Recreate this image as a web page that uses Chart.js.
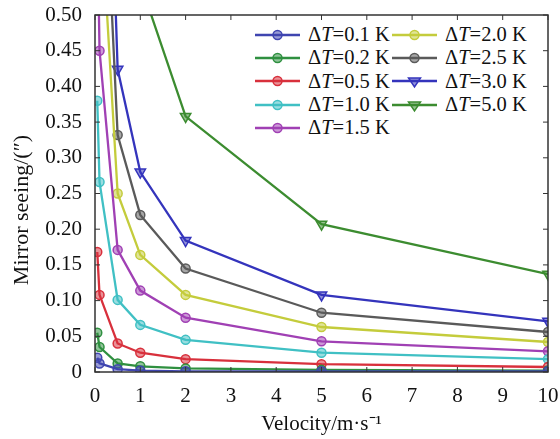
<!DOCTYPE html>
<html>
<head>
<meta charset="utf-8">
<script src="https://cdn.jsdelivr.net/npm/chart.js@4.4.0/dist/chart.umd.min.js"></script>
<style>
  body { margin: 0; background: #fff; }
  .wrap { position: relative; width: 560px; height: 439px; }
  #legend { position: absolute; left: 255px; top: 23px; display: grid; grid-template-rows: repeat(5, 23.3px); grid-auto-flow: column; grid-template-columns: 137px 137px; font-family: "Liberation Serif", serif; font-size: 20.5px; color: #111; background: #fff; }
  .item { display: flex; align-items: center; white-space: nowrap; }
  .item svg { margin-right: 8px; }
</style>
</head>
<body>
<div class="wrap">
  <canvas id="myChart" width="560" height="439"></canvas>
  <div id="legend"></div>
</div>
<script>
const velocity = [0.05, 0.1, 0.5, 1, 2, 5, 10];
const deltaT = ['0.1', '0.2', '0.5', '1.0', '1.5', '2.0', '2.5', '3.0', '5.0'];
const dT01 = [0.020, 0.012, 0.004, 0.002, 0.001, 0.001, 0.001];
const dT02 = [0.055, 0.035, 0.012, 0.008, 0.005, 0.003, 0.002];
const dT05 = [0.168, 0.108, 0.040, 0.027, 0.018, 0.011, 0.007];
const dT10 = [0.380, 0.266, 0.101, 0.066, 0.045, 0.027, 0.018];
const dT15 = [0.640, 0.450, 0.171, 0.114, 0.076, 0.043, 0.029];
const dT20 = [0.950, 0.680, 0.250, 0.164, 0.108, 0.063, 0.042];
const dT25 = [1.250, 0.870, 0.332, 0.220, 0.145, 0.083, 0.056];
const dT30 = [1.650, 1.180, 0.424, 0.280, 0.184, 0.108, 0.071];
const dT50 = [2.300, 1.600, 0.850, 0.545, 0.358, 0.207, 0.137];
const xTicks = [0, 1, 2, 3, 4, 5, 6, 7, 8, 9, 10];

const allSeries = [dT01, dT02, dT05, dT10, dT15, dT20, dT25, dT30, dT50];
const colors = ['#3f45b0', '#2f9040', '#d8303c', '#40c0c4', '#a040b4', '#c4cc3c', '#5a5a5a', '#3434bc', '#3c8c30'];
const shapes = ['circle', 'circle', 'circle', 'circle', 'circle', 'circle', 'circle', 'triangle', 'triangle'];

const serif = '"Liberation Serif", serif';

const datasets = allSeries.map(function (vals, i) {
    return {
        label: 'ΔT=' + deltaT[i] + ' K',
        data: vals.map(function (v, j) { return {x: velocity[j], y: v}; }),
        borderColor: colors[i],
        backgroundColor: colors[i] + '88',
        borderWidth: 2.3,
        pointStyle: shapes[i],
        rotation: shapes[i] === 'triangle' ? 180 : 0,
        pointRadius: shapes[i] === 'triangle' ? 6 : 4.5,
        pointBorderWidth: 1.5,
        tension: 0
    };
});

// frame round the plot area with inward ticks
const frame = {
    id: 'frame',
    afterDraw: function (chart) {
        const c = chart.ctx, a = chart.chartArea;
        const xs = chart.scales.x, ys = chart.scales.y;
        c.save();
        c.strokeStyle = '#333';
        c.lineWidth = 1.5;
        c.strokeRect(a.left, a.top, a.right - a.left, a.bottom - a.top);
        c.lineWidth = 1;
        c.beginPath();
        xTicks.forEach(function (t) {
            const px = xs.getPixelForValue(t);
            c.moveTo(px, a.bottom); c.lineTo(px, a.bottom - 5);
            c.moveTo(px, a.top); c.lineTo(px, a.top + 5);
        });
        ys.ticks.forEach(function (t) {
            const py = ys.getPixelForValue(t.value);
            c.moveTo(a.left, py); c.lineTo(a.left + 5, py);
            c.moveTo(a.right, py); c.lineTo(a.right - 5, py);
        });
        c.stroke();
        c.restore();
    }
};

const ctx = document.getElementById('myChart');
const myChart = new Chart(ctx, {
    type: 'line',
    data: { datasets: datasets },
    plugins: [frame],
    options: {
        responsive: false,
        animation: false,
        layout: { padding: { top: 15, right: 12, left: 0, bottom: 0 } },
        plugins: { legend: { display: false }, tooltip: { enabled: false } },
        scales: {
            x: {
                type: 'linear',
                min: 0, max: 10,
                afterBuildTicks: function (s) { s.ticks = xTicks.map(function (v) { return {value: v}; }); },
                afterFit: function (s) { s.height = 67; s.paddingLeft = 0; s.paddingRight = 0; },
                grid: { display: false, drawTicks: false },
                border: { display: false },
                ticks: { padding: 12, color: '#111', font: { family: serif, size: 21 } },
                title: { display: true, text: 'Velocity/m·s⁻¹', color: '#111', font: { family: serif, size: 21 }, padding: { top: 0, bottom: 2 } }
            },
            y: {
                min: 0, max: 0.5,
                afterFit: function (s) { s.width = 95; s.paddingTop = 0; s.paddingBottom = 0; },
                grid: { display: false, drawTicks: false },
                border: { display: false },
                ticks: {
                    stepSize: 0.05, padding: 13, color: '#111', font: { family: serif, size: 21 },
                    callback: function (v) { return v === 0 ? '0' : v.toFixed(2); }
                },
                // trailing spaces push the title down, as in the original
                title: { display: true, text: 'Mirror seeing/(″)\u00a0\u00a0\u00a0\u00a0\u00a0\u00a0', color: '#111', font: { family: serif, size: 22 }, padding: { top: 9, bottom: 0 } }
            }
        }
    }
});

// legend inside the plot, two columns
const legend = document.getElementById('legend');
deltaT.forEach(function (d, i) {
    const mark = shapes[i] === 'triangle'
        ? '<polygon points="16.5,8 28.5,8 22.5,17" fill="' + colors[i] + '88" stroke="' + colors[i] + '" stroke-width="1.5"/>'
        : '<circle cx="22.5" cy="11" r="4.5" fill="' + colors[i] + '88" stroke="' + colors[i] + '" stroke-width="1.5"/>';
    const el = document.createElement('div');
    el.className = 'item';
    el.innerHTML = '<svg width="45" height="22"><line x1="0" y1="11" x2="45" y2="11" stroke="' + colors[i] + '" stroke-width="2.3"/>' + mark + '</svg>' +
        '<span>Δ<i>T</i>=' + d + ' K</span>';
    legend.appendChild(el);
});
</script>
</body>
</html>
